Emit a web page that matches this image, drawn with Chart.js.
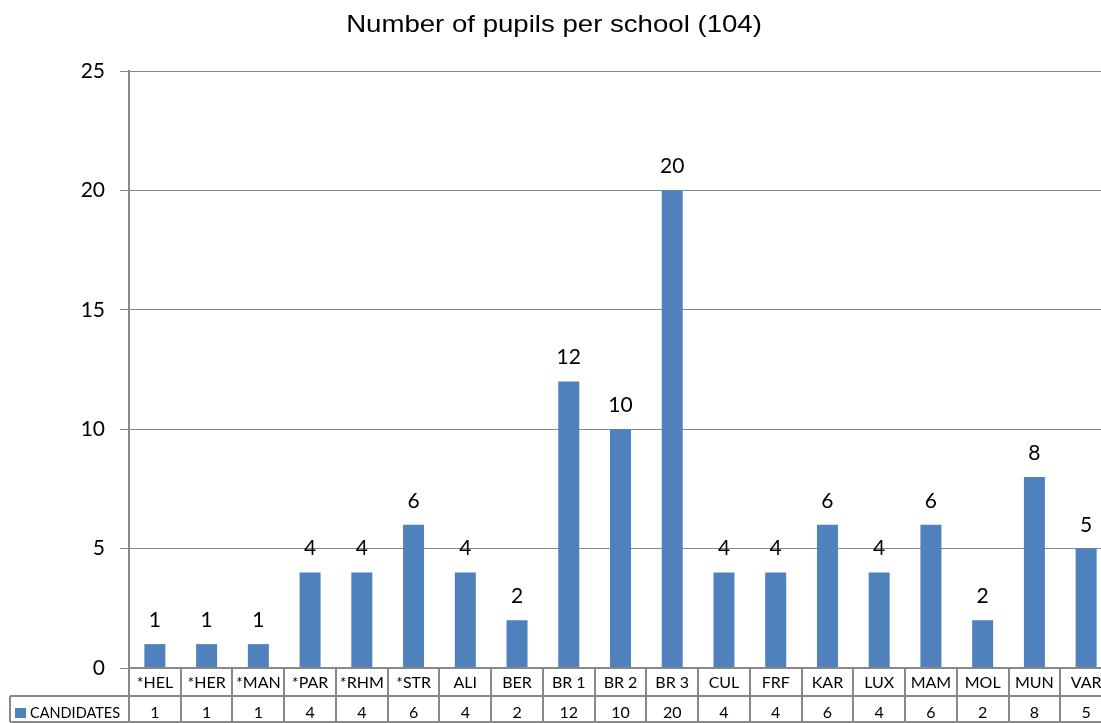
<!DOCTYPE html>
<html>
<head>
<meta charset="utf-8">
<script src="https://cdn.jsdelivr.net/npm/chart.js@4/dist/chart.umd.min.js"></script>
<style>
  html, body { margin: 0; padding: 0; background: #fff; overflow: hidden; }
  #wrap { width: 1101px; height: 723px; overflow: hidden; position: relative; }
  canvas { display: block; }
</style>
</head>
<body>
<div id="wrap"><canvas id="c" width="1113" height="723"></canvas></div>
<script>
const categories = ['*HEL','*HER','*MAN','*PAR','*RHM','*STR','ALI','BER','BR 1','BR 2','BR 3','CUL','FRF','KAR','LUX','MAM','MOL','MUN','VAR'];
const candidates = [1,1,1,4,4,6,4,2,12,10,20,4,4,6,4,6,2,8,5];
const seriesName = 'CANDIDATES';
const titleText = 'Number of pupils per school (104)';
const yTicks = [0,5,10,15,20,25];

const BLUE = '#4f81bd';
const GRID = '#888888';
const TEXTFONT = 'Lato, "Open Sans", sans-serif';

const titlePlugin = {
  id: 'stretchedTitle',
  afterDraw(chart) {
    const ctx = chart.ctx;
    ctx.save();
    ctx.translate(554, 32);
    ctx.scale(1.15, 1);
    ctx.fillStyle = '#000';
    ctx.font = '24px "Liberation Sans", Arial, sans-serif';
    ctx.textAlign = 'center';
    ctx.textBaseline = 'alphabetic';
    ctx.fillText(titleText, 0, 0);
    ctx.restore();
  }
};

const dataLabels = {
  id: 'dataLabels',
  afterDatasetsDraw(chart) {
    const ctx = chart.ctx;
    const meta = chart.getDatasetMeta(0);
    ctx.save();
    ctx.fillStyle = '#000';
    ctx.font = '21px ' + TEXTFONT;
    ctx.textAlign = 'center';
    ctx.textBaseline = 'alphabetic';
    meta.data.forEach((bar, i) => {
      ctx.fillText(String(candidates[i]), bar.x, bar.y - 17);
    });
    ctx.restore();
  }
};

const dataTable = {
  id: 'dataTable',
  afterDraw(chart) {
    const ctx = chart.ctx;
    const xs = chart.scales.x;
    const area = chart.chartArea;
    const top = area.bottom;
    const mid = top + 28;
    const bot = mid + 26;
    const n = categories.length;
    const step = (area.right - area.left) / n;
    const leftCell = 10;
    ctx.save();
    ctx.strokeStyle = GRID;
    ctx.lineWidth = 2;
    for (let k = 0; k <= n; k++) {
      const x = Math.round(area.left + k * step);
      ctx.beginPath();
      ctx.moveTo(x, top);
      ctx.lineTo(x, bot);
      ctx.stroke();
    }
    ctx.beginPath();
    ctx.moveTo(leftCell, mid);
    ctx.lineTo(leftCell, bot);
    ctx.stroke();
    ctx.beginPath();
    ctx.moveTo(leftCell, mid);
    ctx.lineTo(area.right, mid);
    ctx.moveTo(leftCell, bot);
    ctx.lineTo(area.right, bot);
    ctx.stroke();
    ctx.beginPath();
    ctx.moveTo(area.left, top);
    ctx.lineTo(area.right, top);
    ctx.stroke();
    ctx.fillStyle = '#000';
    ctx.font = '16px ' + TEXTFONT;
    ctx.textAlign = 'center';
    ctx.textBaseline = 'middle';
    categories.forEach((c, i) => {
      const x = xs.getPixelForValue(i);
      ctx.fillText(c, x, (top + mid) / 2 + 1, step - 6);
      ctx.fillText(String(candidates[i]), x, (mid + bot) / 2 + 4, step - 6);
    });
    ctx.fillStyle = BLUE;
    ctx.fillRect(15, (mid + bot) / 2 - 1, 11, 10);
    ctx.fillStyle = '#000';
    ctx.textAlign = 'left';
    ctx.fillText(seriesName, 30, (mid + bot) / 2 + 4, 90);
    ctx.restore();
  }
};

new Chart(document.getElementById('c'), {
  type: 'bar',
  data: {
    labels: categories,
    datasets: [{
      label: seriesName,
      data: candidates,
      backgroundColor: BLUE,
      borderWidth: 0,
      categoryPercentage: 1,
      barPercentage: 0.406
    }]
  },
  options: {
    responsive: false,
    animation: false,
    devicePixelRatio: 1,
    layout: { padding: { top: 71, right: 1, left: 0, bottom: 0 } },
    plugins: {
      legend: { display: false },
      tooltip: { enabled: false },
      title: { display: false }
    },
    scales: {
      x: {
        grid: { display: false, drawTicks: false },
        border: { display: false },
        ticks: { display: false },
        afterFit(scale) { scale.height = 55; }
      },
      y: {
        min: 0, max: 25,
        afterBuildTicks(scale) { scale.ticks = yTicks.map(v => ({ value: v })); },
        grid: { color: GRID, lineWidth: 1, tickLength: 9, drawTicks: true },
        border: { display: true, color: GRID, width: 2 },
        ticks: { color: '#000', font: { family: TEXTFONT, size: 21 }, padding: 15 },
        afterFit(scale) { scale.width = 129; }
      }
    }
  },
  plugins: [titlePlugin, dataLabels, dataTable]
});
</script>
</body>
</html>
